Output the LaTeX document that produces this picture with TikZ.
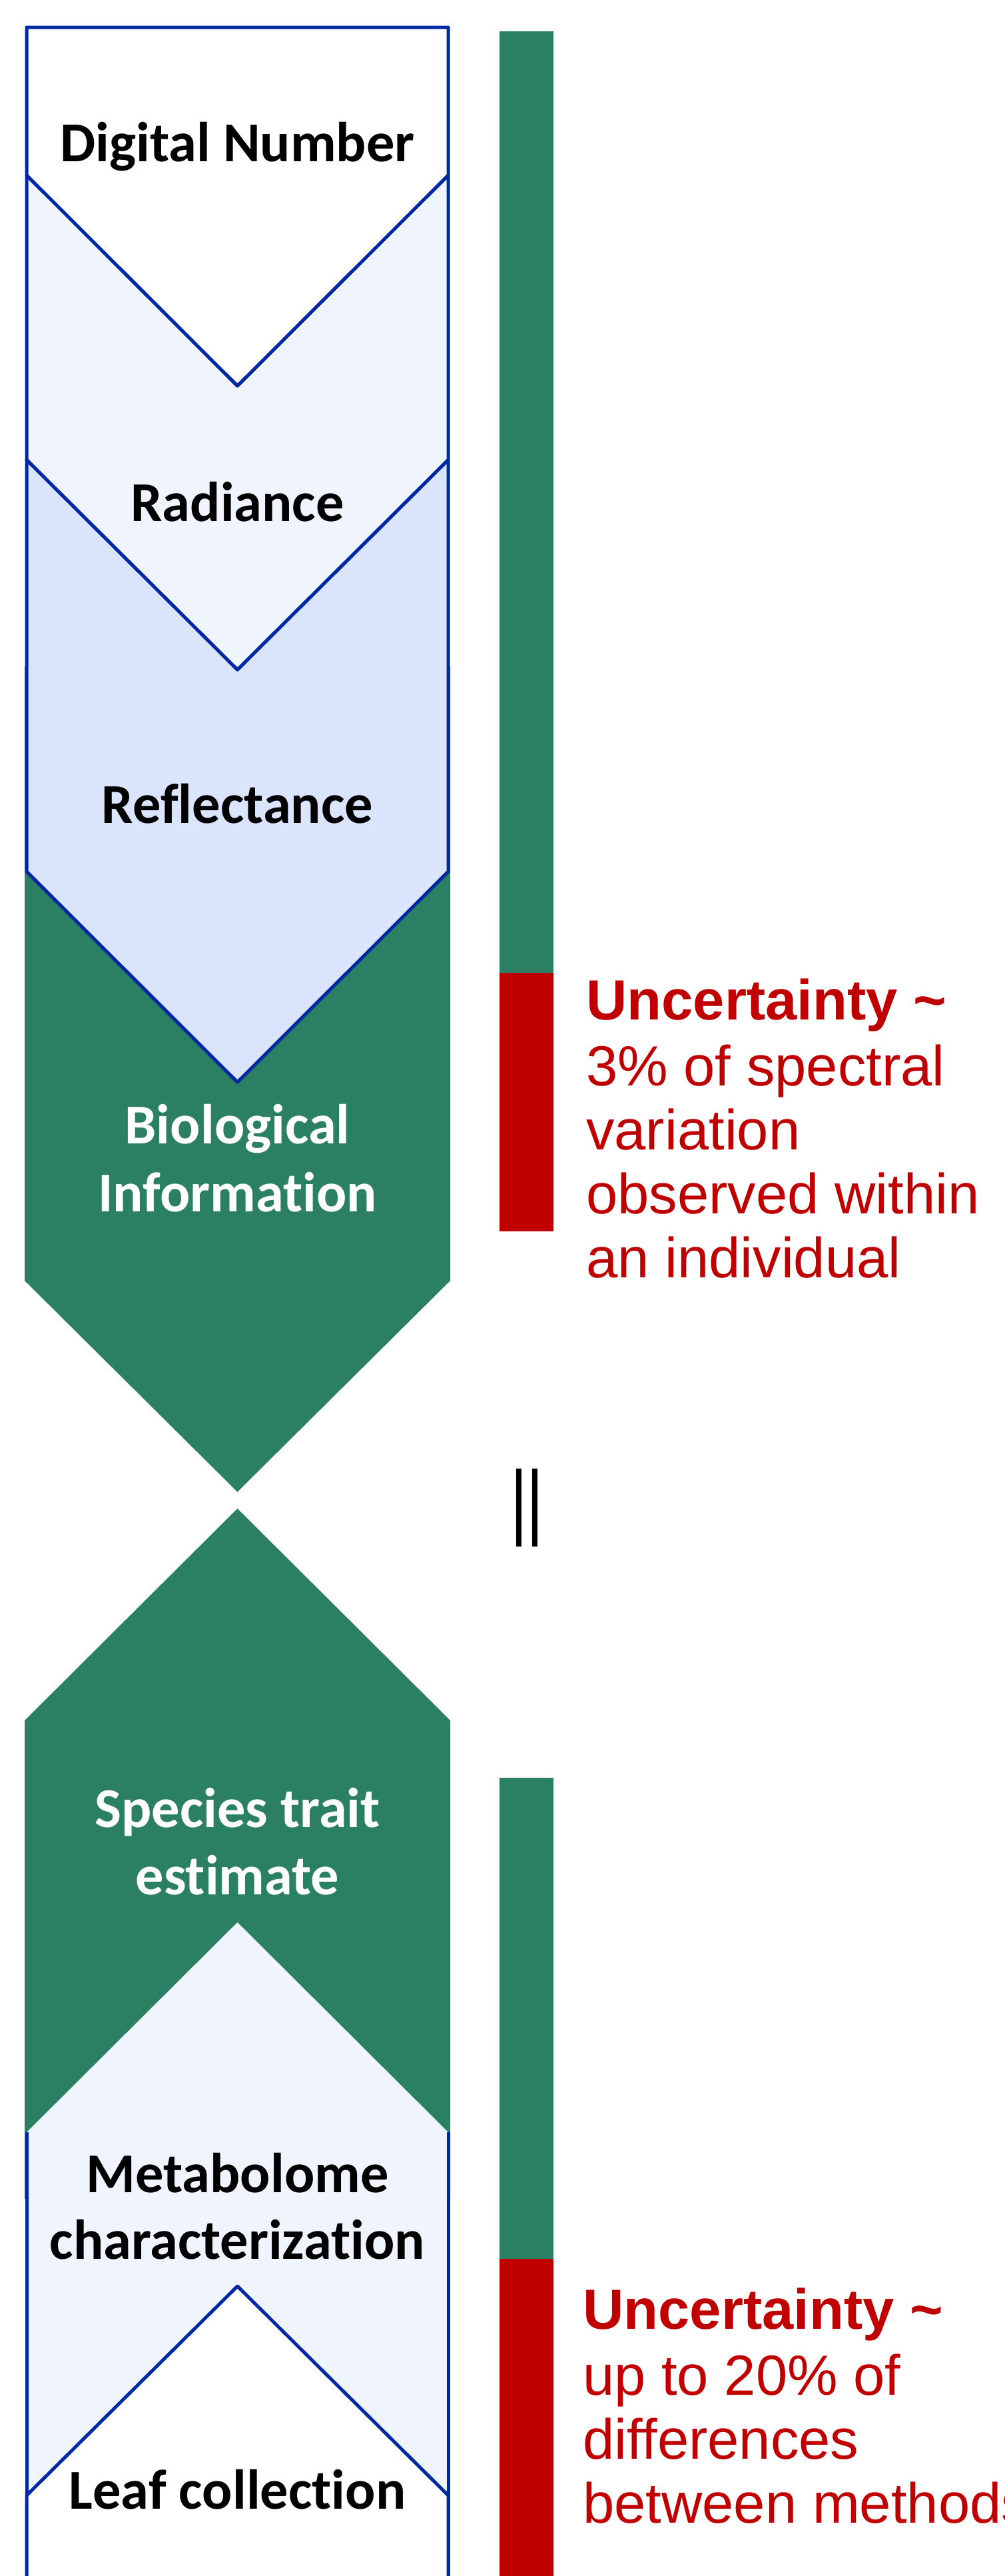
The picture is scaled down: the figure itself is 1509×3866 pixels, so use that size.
\documentclass[tikz,border=0pt]{standalone}
\usepackage{fontspec}
\newfontfamily\calfont{Carlito}[Ligatures=NoCommon]
\newfontfamily\arialfont{Liberation Sans}
\definecolor{edgeblue}{RGB}{0,40,165}
\definecolor{paleblue}{RGB}{239,244,253}
\definecolor{lightblue}{RGB}{218,228,251}
\definecolor{traitgreen}{RGB}{43,127,98}
\definecolor{warnred}{RGB}{192,0,0}
\begin{document}
\begin{tikzpicture}[x=1pt,y=-1pt,line join=round,
  outline/.style={draw=edgeblue,line width=5pt},
  stagetext/.style={inner sep=0pt,anchor=base,font=\calfont\bfseries\fontsize{84.5}{99}\selectfont},
  notebold/.style={inner sep=0pt,anchor=base west,text=warnred,font=\arialfont\bfseries\fontsize{85}{97}\selectfont},
  note/.style={inner sep=0pt,anchor=base west,text=warnred,font=\arialfont\fontsize{85}{97}\selectfont}]
\useasboundingbox (0,0) rectangle (1509,3866);
\clip (0,0) rectangle (1509,3866);
% column geometry
\def\xl{40}\def\xr{673}\def\xc{356.5}

% ---- upper chain: digital number -> biological information
\fill[traitgreen] (37,1000) -- (676,1000) -- (676,1922) -- (\xc,2239) -- (37,1922) -- cycle;
\draw[outline,fill=lightblue] (\xl,690) -- (\xc,1005) -- (\xr,690) -- (\xr,1308) -- (\xc,1624) -- (\xl,1308) -- cycle;
\draw[outline,fill=paleblue] (\xl,263) -- (\xc,579) -- (\xr,263) -- (\xr,690) -- (\xc,1005) -- (\xl,690) -- cycle;
\draw[outline,fill=white] (\xl,41) -- (\xr,41) -- (\xr,263) -- (\xc,579) -- (\xl,263) -- cycle;

\node[stagetext] (dn) at (\xc,242) {Digital Number};
\node[stagetext] (rad) at (\xc,782) {Radiance};
\node[stagetext] (refl) at (\xc,1235) {Reflectance};
\node[stagetext,text=white] (bio1) at (\xc,1716) {Biological};
\node[stagetext,text=white] (bio2) at (\xc,1818) {Information};

% ---- lower chain: species trait estimate <- leaf collection
\fill[traitgreen] (\xc,2264) -- (676,2582) -- (676,3300) -- (37,3300) -- (37,2582) -- cycle;
\fill[paleblue] (\xl,3200) -- (\xc,2885) -- (\xr,3200) -- (\xr,3880) -- (\xl,3880) -- cycle;
\draw[outline] (\xl,3200) -- (\xl,3880) (\xr,3200) -- (\xr,3880);
\draw[outline,fill=white] (\xl,3880) -- (\xl,3745) -- (\xc,3431) -- (\xr,3745) -- (\xr,3880);

\node[stagetext,text=white] (sp1) at (\xc,2742) {Species trait};
\node[stagetext,text=white] (sp2) at (\xc,2843) {estimate};
\node[stagetext] (met1) at (\xc,3290) {Metabolome};
\node[stagetext] (met2) at (\xc,3390) {characterization};
\node[stagetext] (leaf) at (\xc,3765) {Leaf collection};

% ---- uncertainty bars
\fill[traitgreen] (750,47) rectangle (831,1460);
\fill[warnred] (750,1460) rectangle (831,1848);
\fill[traitgreen] (750,2668) rectangle (831,3390);
\fill[warnred] (750,3390) rectangle (831,3880);

% equivalence mark between the two chains
\fill[black] (775,2204) rectangle (783,2321);
\fill[black] (799,2204) rectangle (807,2321);

% ---- uncertainty notes
\node[notebold] (u1a) at (880,1530) {Uncertainty \char"7E};
\node[note] (u1b) at (880,1629) {3\% of spectral};
\node[note] (u1c) at (880,1725) {variation};
\node[note] (u1d) at (880,1821) {observed within};
\node[note] (u1e) at (880,1917) {an individual};

\node[notebold] (u2a) at (875,3495) {Uncertainty \char"7E};
\node[note] (u2b) at (875,3594) {up to 20\% of};
\node[note] (u2c) at (875,3690) {differences};
\node[note] (u2d) at (875,3786) {between methods};
\end{tikzpicture}
\end{document}
